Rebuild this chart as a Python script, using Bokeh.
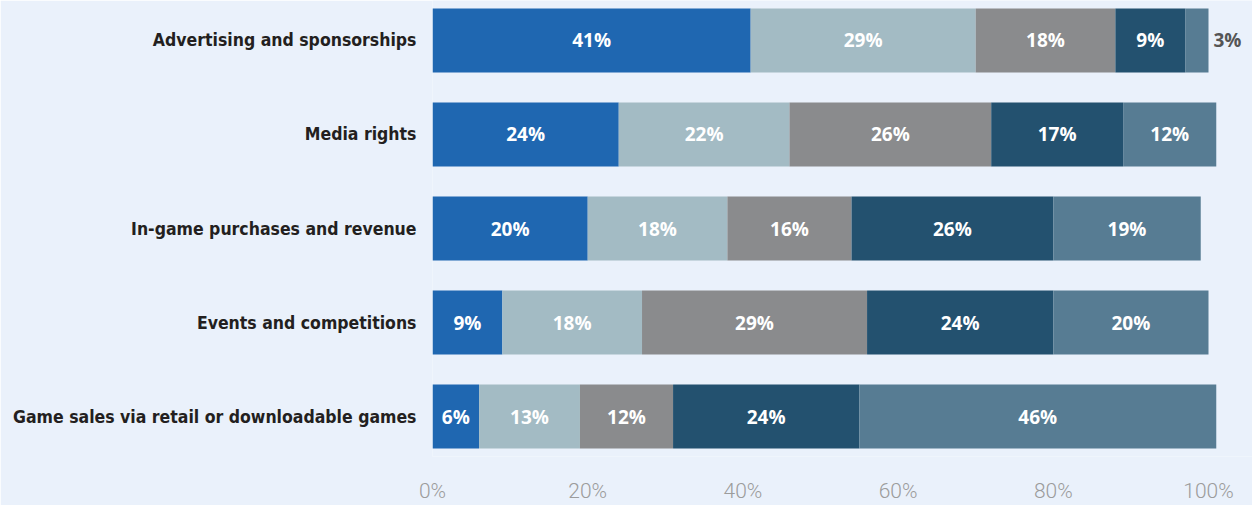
from bokeh.plotting import figure
from bokeh.models import ColumnDataSource, Range1d, FactorRange, FixedTicker
from bokeh.core.properties import value
from bokeh.embed import file_html
from bokeh.resources import INLINE

categories = [
    "Advertising and sponsorships",
    "Media rights",
    "In-game purchases and revenue",
    "Events and competitions",
    "Game sales via retail or downloadable games",
]
s1 = [41, 24, 20, 9, 6]
s2 = [29, 22, 18, 18, 13]
s3 = [18, 26, 16, 29, 12]
s4 = [9, 17, 26, 24, 24]
s5 = [3, 12, 19, 20, 46]
series = [s1, s2, s3, s4, s5]
colors = ["#1f67b1", "#a3bbc4", "#8a8b8d", "#23516f", "#577c93"]
x_ticks = [0, 20, 40, 60, 80, 100]

BG = "#eaf1fb"
keys = ["s1", "s2", "s3", "s4", "s5"]

data = {"cat": categories}
for k, s in zip(keys, series):
    data[k] = s
src = ColumnDataSource(data)

p = figure(
    width=1252, height=505,
    y_range=FactorRange(factors=list(reversed(categories)), range_padding=-0.0745,
                        range_padding_units="absolute"),
    x_range=Range1d(0, 105.67),
    output_backend="svg", toolbar_location=None,
    min_border_left=432, min_border_right=0, min_border_top=0, min_border_bottom=49,
)
p.background_fill_color = BG
p.border_fill_color = BG
p.outline_line_color = None
p.grid.grid_line_color = None

p.hbar_stack(keys, y="cat", height=0.68, color=colors, line_color=None, source=src)

# segment labels
in_x, in_y, in_t = [], [], []
out_x, out_y, out_t = [], [], []
for i, cat in enumerate(categories):
    left = 0
    for s in series:
        v = s[i]
        if v < 5:
            out_x.append(left + v)
            out_y.append(cat)
            out_t.append(f"{v}%")
        else:
            in_x.append(left + v / 2)
            in_y.append(cat)
            in_t.append(f"{v}%")
        left += v

p.text(x=in_x, y=in_y, text=in_t, text_color="white", text_font=value("Open Sans"),
       text_font_style="bold", text_font_size="19px", text_align="center",
       text_baseline="middle")
p.text(x=out_x, y=out_y, text=out_t, text_color="#555555", text_font=value("Open Sans"),
       text_font_style="bold", text_font_size="19px", text_align="left",
       text_baseline="middle", x_offset=5)

xa = p.xaxis[0]
xa.ticker = FixedTicker(ticks=x_ticks)
xa.major_label_overrides = {t: f"{t}%" for t in x_ticks}
xa.axis_line_color = None
xa.major_tick_line_color = None
xa.minor_tick_line_color = None
xa.major_tick_out = 0
xa.major_tick_in = 0
xa.major_label_standoff = 22
xa.major_label_text_font = "Roboto Light, Roboto"
xa.major_label_text_font_size = "21px"
xa.major_label_text_color = "#9c9c9c"

ya = p.yaxis[0]
ya.axis_line_color = None
ya.major_tick_line_color = None
ya.minor_tick_line_color = None
ya.major_tick_out = 0
ya.major_tick_in = 0
ya.major_label_standoff = 16
ya.major_label_text_font = "DejaVu Sans Condensed, Roboto"
ya.major_label_text_font_style = "bold"
ya.major_label_text_font_size = "17.5px"
ya.major_label_text_color = "#231f20"

open("out.html", "w").write(file_html(p, INLINE))
